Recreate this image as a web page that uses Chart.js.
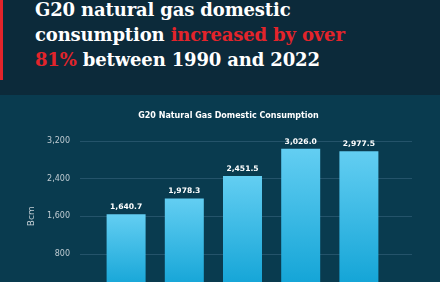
<!DOCTYPE html>
<html>
<head>
<meta charset="utf-8">
<script src="https://cdn.jsdelivr.net/npm/chart.js@4.4.1/dist/chart.umd.min.js"></script>
<style>
  html, body { margin: 0; padding: 0; }
  body { width: 440px; height: 282px; overflow: hidden; background: #093b4f; position: relative; }
  .head { position: absolute; left: 0; top: 0; width: 440px; height: 95px; background: #0c2a3a; }
  .head .bar { position: absolute; left: 0; top: 0; width: 3px; height: 80px; background: #e3242b; }
  .head h1 { position: absolute; left: 35px; top: -3px; margin: 0; font-family: "DejaVu Serif", serif; font-weight: bold; font-size: 18px; line-height: 25px; color: #fff; letter-spacing: -0.15px; }
  .head h1 span { color: #e3242b; }
  #wrap { position: absolute; left: 0; top: 95px; }
</style>
</head>
<body>
<div class="head">
  <div class="bar"></div>
  <h1>G20 natural gas domestic<br>consumption <span>increased by over</span><br><span>81%</span> between 1990 and 2022</h1>
</div>
<div id="wrap"><canvas id="myChart" width="460" height="240"></canvas></div>
<script>
const years = ['1990', '2000', '2010', '2021', '2022'];
const consumption = [1640.7, 1978.3, 2451.5, 3026.0, 2977.5];
const yTicks = [0, 800, 1600, 2400, 3200];

const fmt = new Intl.NumberFormat('en-US', {minimumFractionDigits: 1, maximumFractionDigits: 1});
const tickFont = {family: 'DejaVu Sans', size: 8};

// gridlines run a bit past the plot on both sides
const wideGrid = {
  id: 'wideGrid',
  beforeDatasetsDraw(chart) {
    const {ctx, chartArea, scales} = chart;
    ctx.save();
    ctx.strokeStyle = '#24536a';
    ctx.lineWidth = 1;
    scales.y.ticks.forEach(function (t) {
      if (t.value === 0) return;
      const y = Math.round(scales.y.getPixelForValue(t.value)) + 0.5;
      ctx.beginPath();
      ctx.moveTo(chartArea.left - 17, y);
      ctx.lineTo(chartArea.right + 24, y);
      ctx.stroke();
    });
    ctx.restore();
  }
};

const barLabels = {
  id: 'barLabels',
  afterDatasetsDraw(chart) {
    const {ctx} = chart;
    const meta = chart.getDatasetMeta(0);
    ctx.save();
    ctx.fillStyle = '#ffffff';
    ctx.font = 'bold 7.6px "DejaVu Sans"';
    ctx.textAlign = 'center';
    ctx.textBaseline = 'alphabetic';
    meta.data.forEach(function (bar, i) {
      ctx.fillText(fmt.format(consumption[i]), bar.x, bar.y - 5);
    });
    ctx.restore();
  }
};

function barGradient(context) {
  const chart = context.chart;
  if (!chart.chartArea || context.parsed === undefined) return '#3cb8e6';
  const y = chart.scales.y;
  const top = y.getPixelForValue(context.parsed.y);
  const bottom = y.getPixelForValue(0);
  const g = chart.ctx.createLinearGradient(0, top, 0, bottom);
  g.addColorStop(0, '#63cef2');
  g.addColorStop(1, '#0fa2d5');
  return g;
}

new Chart(document.getElementById('myChart'), {
  type: 'bar',
  data: {
    labels: years,
    datasets: [{
      data: consumption,
      backgroundColor: barGradient,
      borderWidth: 0,
      barPercentage: 0.67,
      categoryPercentage: 1
    }]
  },
  options: {
    responsive: false,
    animation: false,
    layout: {padding: {left: 0, right: 3, top: 0, bottom: 0}},
    plugins: {
      legend: {display: false},
      tooltip: {enabled: false},
      title: {
        display: true,
        text: 'G20 Natural Gas Domestic Consumption',
        color: '#ffffff',
        font: {family: 'DejaVu Sans', size: 8, weight: 'bold'},
        padding: {top: 16, bottom: 20}
      }
    },
    scales: {
      x: {
        grid: {display: false},
        border: {display: false},
        ticks: {color: '#bfcbd2', font: tickFont},
        afterFit(scale) { scale.height = 43; }
      },
      y: {
        min: 0,
        max: 3200,
        afterBuildTicks(scale) { scale.ticks = yTicks.map(v => ({value: v})); },
        grid: {display: false},
        border: {display: false},
        ticks: {
          color: '#bfcbd2',
          font: tickFont,
          padding: 19,
          callback: v => v === 0 ? '0' : v.toLocaleString('en-US')
        },
        title: {
          display: true,
          text: 'Bcm',
          color: '#c4cfd5',
          font: {family: 'DejaVu Sans', size: 9},
          padding: {top: 26, bottom: 0}
        },
        afterFit(scale) { scale.width = 97; }
      },
      // empty right-hand margin axis, keeps the plot where the original has it
      side: {
        position: 'right',
        min: 0,
        max: 3200,
        grid: {display: false},
        border: {display: false},
        ticks: {display: false},
        afterFit(scale) { scale.width = 69; }
      }
    }
  },
  plugins: [wideGrid, barLabels]
});
</script>
</body>
</html>
